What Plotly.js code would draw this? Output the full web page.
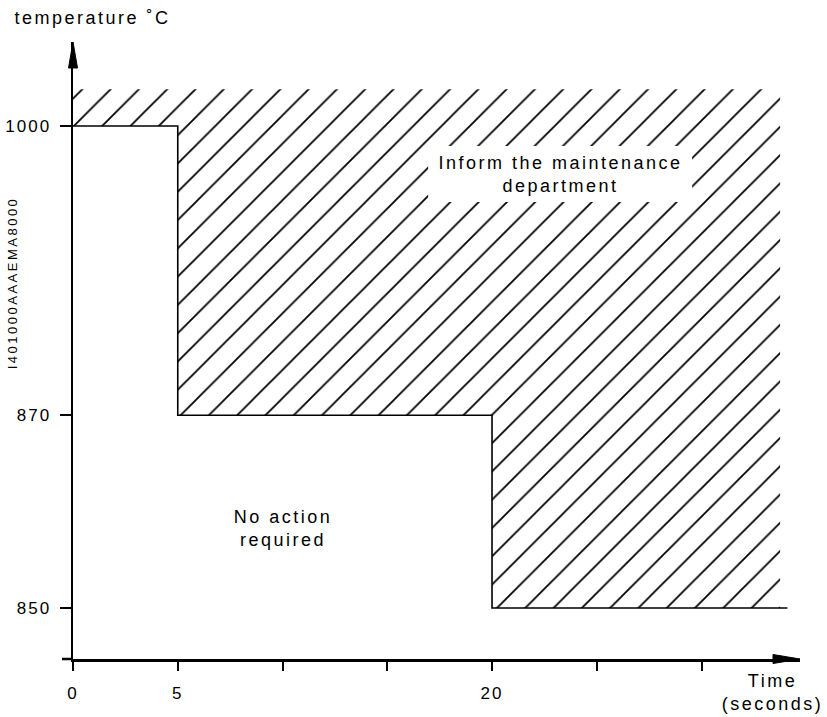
<!DOCTYPE html>
<html>
<head>
<meta charset="utf-8">
<script src="https://cdn.plot.ly/plotly-3.0.1.min.js"></script>
<style>
  html, body { margin: 0; padding: 0; background: #fff; }
  #chart { width: 827px; height: 717px; }
  #chart svg text { letter-spacing: 2.5px; }
  #chart svg .ytick text, #chart svg .xtick text { letter-spacing: 2px; }
</style>
</head>
<body>
<div id="chart"></div>
<script>
// ---- data ----
const timeTicks = [0, 5, 10, 15, 20, 25, 30];
const timeTickText = ['0', '5', '', '', '20', '', ''];
const tempTicks = [1000, 870, 850];           // tick labels (°C)
const tempTickPos = [2.5, 1, 0];              // position of each label on the (non-linear) drawn axis
const stepStart = [0, 5, 20];                 // seconds where each limit begins
const stepLimit = [1000, 870, 850];           // temperature limit (°C)
const stepEnd = 34.1;                         // end of last limit segment (s)
const hatchEnd = 33.75;                       // right end of hatched zone (s)
const hatchTop = 2.69;                        // top of hatched zone (axis position)

function posOf(t) { return tempTickPos[tempTicks.indexOf(t)]; }

// step boundary
const lineX = [], lineY = [];
for (let i = 0; i < stepStart.length; i++) {
  const x1 = i + 1 < stepStart.length ? stepStart[i + 1] : stepEnd;
  lineX.push(stepStart[i], x1);
  lineY.push(posOf(stepLimit[i]), posOf(stepLimit[i]));
}
// hatched zone polygon
const hx = lineX.slice(0, -1).concat([hatchEnd, hatchEnd, 0]);
const hy = lineY.slice(0, -1).concat([posOf(stepLimit[stepLimit.length - 1]), hatchTop, hatchTop]);

const FONT = 'Liberation Sans, Arial, Helvetica, sans-serif';

const traces = [
  {
    x: hx, y: hy, type: 'scatter', mode: 'lines', fill: 'toself',
    line: { width: 0, color: 'rgba(0,0,0,0)' },
    fillcolor: 'white',
    fillpattern: { shape: '/', size: 20, solidity: 0.09, fgcolor: '#000', bgcolor: '#fff', fgopacity: 1 },
    hoverinfo: 'skip', showlegend: false
  },
  {
    x: lineX, y: lineY, type: 'scatter', mode: 'lines',
    line: { color: '#000', width: 1.6, shape: 'linear' },
    hoverinfo: 'skip', showlegend: false
  }
];

const W = 727, H = 617;
const layout = {
  width: 827, height: 717,
  margin: { l: 73, r: 27, t: 42, b: 58 },
  paper_bgcolor: '#fff', plot_bgcolor: '#fff',
  showlegend: false,
  font: { family: FONT, color: '#000', size: 16 },
  xaxis: {
    range: [0, 34.70], showgrid: false, zeroline: false,
    showline: true, linecolor: '#000', linewidth: 2.5,
    ticks: 'outside', ticklen: 9, tickwidth: 2, tickcolor: '#000',
    tickvals: timeTicks, ticktext: timeTickText,
    tickfont: { family: FONT, size: 17, color: '#000' },
    ticklabelstandoff: 8, fixedrange: true
  },
  yaxis: {
    range: [-0.2645, 2.9357], showgrid: false, zeroline: false,
    showline: true, linecolor: '#000', linewidth: 2.5,
    ticks: 'outside', ticklen: 11, tickwidth: 2, tickcolor: '#000',
    tickvals: tempTickPos, ticktext: tempTicks.map(String),
    tickfont: { family: FONT, size: 17, color: '#000' },
    ticklabelstandoff: 5, fixedrange: true
  },
  shapes: [
    // white panel behind the hatched-zone label
    { type: 'rect', xref: 'x', yref: 'y', x0: 16.95, x1: 29.55, y0: 2.106, y1: 2.396,
      fillcolor: '#fff', line: { width: 0 }, layer: 'above' },
    // x axis stub left of origin
    { type: 'line', xref: 'paper', yref: 'paper', x0: -11 / W, x1: 0, y0: 0, y1: 0, line: { color: '#000', width: 2.5 } },
    // x arrow head
    { type: 'path', xref: 'paper', yref: 'paper',
      path: `M 1 0 L ${(773 - 73) / W} ${4.5 / H} L ${(773 - 73) / W} ${-4.5 / H} Z`,
      fillcolor: '#000', line: { color: '#000', width: 1 } },
    // y arrow head
    { type: 'path', xref: 'paper', yref: 'paper',
      path: `M 0 1 L ${4.5 / W} ${(659 - 68) / H} L ${-4.5 / W} ${(659 - 68) / H} Z`,
      fillcolor: '#000', line: { color: '#000', width: 1 } }
  ],
  annotations: [
    { text: 'temperature ˚C', xref: 'paper', yref: 'paper', x: (92 - 73) / W, y: (659 - 18) / H,
      xanchor: 'center', yanchor: 'middle', showarrow: false, font: { family: FONT, size: 18 } },
    { text: 'I401000AAAEMA8000', xref: 'paper', yref: 'paper', x: (12 - 73) / W, y: (659 - 283) / H,
      xanchor: 'center', yanchor: 'middle', textangle: -90, showarrow: false, font: { family: FONT, size: 13 } },
    { text: 'Inform the maintenance<br>department', xref: 'x', yref: 'y', x: 23.25, y: 2.248,
      xanchor: 'center', yanchor: 'middle', showarrow: false,
      font: { family: FONT, size: 18 } },
    { text: 'No action<br>required', xref: 'x', yref: 'y', x: 10.02, y: 0.412,
      xanchor: 'center', yanchor: 'middle', showarrow: false, font: { family: FONT, size: 18 } },
    { text: 'Time<br>(seconds)', xref: 'paper', yref: 'paper', x: (772 - 73) / W, y: (659 - 692) / H,
      xanchor: 'center', yanchor: 'middle', showarrow: false, font: { family: FONT, size: 18 } }
  ]
};

Plotly.newPlot('chart', traces, layout, { staticPlot: true, displayModeBar: false });
</script>
</body>
</html>
